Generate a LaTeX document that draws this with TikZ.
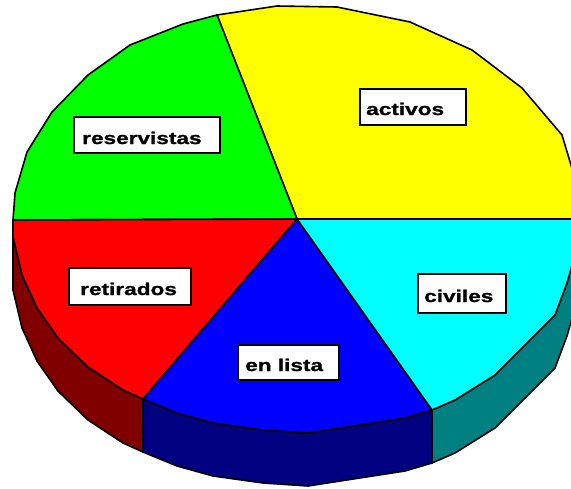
\documentclass[tikz,border=0pt]{standalone}
\usepackage{fontspec}
\newfontfamily\lblfont[FakeStretch=1.33, BoldFeatures={FakeBold=1.2}]{Liberation Sans}
\definecolor{pyellow}{RGB}{255,255,0}
\definecolor{pgreen}{RGB}{0,255,0}
\definecolor{pred}{RGB}{255,0,0}
\definecolor{pblue}{RGB}{0,0,255}
\definecolor{pcyan}{RGB}{0,255,255}
\definecolor{sred}{RGB}{128,0,0}
\definecolor{sblue}{RGB}{0,0,128}
\definecolor{scyan}{RGB}{0,128,128}
\tikzset{
  edge/.style={draw=black, line width=1.6pt, line join=miter},
  lbox/.style={draw=black, fill=white, line width=1.6pt, inner sep=0pt, anchor=north west},
  ltext/.style={inner sep=0pt, anchor=base west, font=\lblfont\bfseries\fontsize{17}{17}\selectfont}
}
\begin{document}
\begin{tikzpicture}[x=1pt,y=-1pt]
\useasboundingbox (0,0) rectangle (571,488);
\clip (0,0) rectangle (571,488);
\coordinate (c) at (297,219);
% sides
\path[edge, fill=sred] (13,220) -- (13,237) -- (22,275) -- (37,308) -- (58,338) -- (88,367) -- (123,390) -- (143,399)
  -- (143,452) -- (123,443) -- (88,420) -- (58,391) -- (37,361) -- (22,328) -- (13,290) -- (13,273) -- cycle;
\path[edge, fill=sblue] (143,399) -- (177,413) -- (213,423) -- (263,430) -- (308,433) -- (405,418) -- (432,410)
  -- (432,463) -- (405,471) -- (308,486) -- (263,483) -- (213,476) -- (177,466) -- (143,452) -- cycle;
\path[edge, fill=scyan] (432,410) -- (455,400) -- (495,375) -- (555,315) -- (567,283) -- (575,255) -- (581,219)
  -- (581,272) -- (575,308) -- (567,336) -- (555,368) -- (495,428) -- (455,453) -- (432,463) -- cycle;
% top faces
\path[edge, fill=pyellow] (c) -- (581,219) -- (574,175) -- (562,135) -- (522,88) -- (472,50) -- (410,22) -- (337,7) -- (277,6) -- (217,15) -- cycle;
\path[edge, fill=pgreen] (c) -- (217,15) -- (183,24) -- (130,45) -- (88,75) -- (52,112) -- (27,152) -- (15,193) -- (13,220) -- cycle;
\path[edge, fill=pred] (c) -- (13,220) -- (13,237) -- (22,275) -- (37,308) -- (58,338) -- (88,367) -- (123,390) -- (143,399) -- cycle;
\path[edge, fill=pblue] (c) -- (143,399) -- (177,413) -- (213,423) -- (263,430) -- (308,433) -- (405,418) -- (432,410) -- cycle;
\path[edge, fill=pcyan] (c) -- (432,410) -- (455,400) -- (495,375) -- (555,315) -- (567,283) -- (575,255) -- (581,219) -- cycle;
% labels
\node[lbox, minimum width=106pt, minimum height=36pt] (bact) at (359,88) {};
\node[ltext] (tact) at (366,115) {activos};
\node[lbox, minimum width=146pt, minimum height=36pt] (bres) at (73,116) {};
\node[ltext] (tres) at (82,144) {reservistas};
\node[lbox, minimum width=122pt, minimum height=37pt] (bret) at (68,267) {};
\node[ltext] (tret) at (80,295) {retirados};
\node[lbox, minimum width=101pt, minimum height=35pt] (blis) at (237,344) {};
\node[ltext] (tlis) at (245,371) {en lista};
\node[lbox, minimum width=88pt, minimum height=39pt] (bciv) at (417,273) {};
\node[ltext] (tciv) at (424,302) {civiles};
\end{tikzpicture}
\end{document}
